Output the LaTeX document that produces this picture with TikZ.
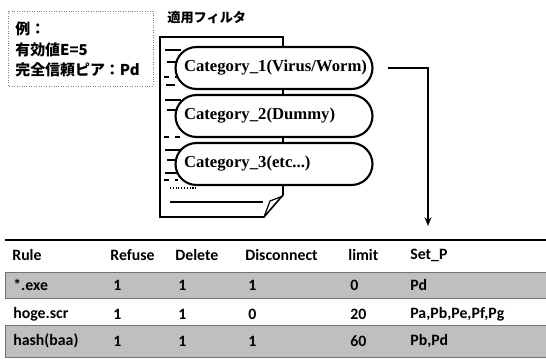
\documentclass[tikz,border=0pt]{standalone}
\usepackage{fontspec}
\setmainfont{Liberation Serif}
\newfontfamily\jpfont{Noto Sans CJK JP}
\newfontfamily\tablefont{Carlito}
\usetikzlibrary{arrows.meta}

\begin{document}
\begin{tikzpicture}[x=0.02cm, y=-0.02cm,
  cat/.style={draw, line width=1.2pt, fill=white, rounded corners=0.42cm, minimum width=3.94cm, minimum height=0.84cm, text width=3.6cm, align=left, font=\fontsize{9.5}{11}\selectfont\bfseries},
  jp/.style={anchor=west, inner sep=0pt, font=\jpfont\fontsize{8.5}{10}\selectfont\bfseries},
  cell/.style={anchor=west, inner sep=0pt, font=\tablefont\fontsize{9}{11}\selectfont\bfseries},
  band/.style={fill=black!25, draw=black!55, line width=0.4pt},
  stub/.style={line width=0.6pt}]
\useasboundingbox (0,0) rectangle (546,359);

% example box
\draw[black!50, densely dotted] (8,11) rectangle (153,86);
\node[jp] (ex1) at (15,29) {例：};
\node[jp] (ex2) at (15,50) {有効値E=5};
\node[jp] (ex3) at (15,70) {完全信頼ピア：Pd};

% filter sheet
\node[jp, font=\jpfont\fontsize{7.5}{9}\selectfont\bfseries] (ftitle) at (167,18) {適用フィルタ};
\draw[line width=0.9pt] (283,195) -- (283,37) -- (160,37) -- (160,217) -- (264,217) -- cycle;
\draw[line width=0.7pt] (264,217) -- (270,201) .. controls (276,199) .. (283,196);
\draw[stub] (165,50) -- (181,50);
\draw[stub] (167,62) -- (177,62);
\draw[stub, dashed] (164,77) -- (180,77);
\draw[stub] (166,85) -- (175,85);
\draw[stub] (165,100) -- (181,100);
\draw[stub] (167,110) -- (177,110);
\draw[stub, dashed] (164,137) -- (180,137);
\draw[stub] (165,150) -- (181,150);
\draw[stub] (167,160) -- (177,160);
\draw[stub] (165,173) -- (180,173);
\draw[stub, dashed] (164,180) -- (178,180);
\draw[stub, densely dotted] (170,188) -- (196,188);
\draw[line width=1pt] (170,202) -- (263,202);

\node[cat] (c1) at (274,68) {Category\_1(Virus/Worm)};
\node[cat] (c2) at (274,116) {Category\_2(Dummy)};
\node[cat] (c3) at (274,164) {Category\_3(etc...)};

% table
\draw[line width=1.2pt] (5,240) -- (546,240);
\draw[band] (5,272) rectangle (546,298);
\draw[band] (5,325) rectangle (546,357);

\node[cell] (hrule) at (12,255) {Rule};
\node[cell] (hrefuse) at (110,255) {Refuse};
\node[cell] (hdelete) at (175,255) {Delete};
\node[cell] (hdisc) at (245,255) {Disconnect};
\node[cell] (hlimit) at (348,255) {limit};
\node[cell] (hsetp) at (410,255) {Set\_P};

\node[cell] (r1rule) at (13,285) {*.exe};
\node[cell] (r1refuse) at (113,285) {1};
\node[cell] (r1delete) at (178,285) {1};
\node[cell] (r1disc) at (248,285) {1};
\node[cell] (r1limit) at (350,285) {0};
\node[cell] (r1setp) at (410,285) {Pd};

\node[cell] (r2rule) at (13,314) {hoge.scr};
\node[cell] (r2refuse) at (113,314) {1};
\node[cell] (r2delete) at (178,314) {1};
\node[cell] (r2disc) at (248,314) {0};
\node[cell] (r2limit) at (350,314) {20};
\node[cell] (r2setp) at (410,314) {Pa,Pb,Pe,Pf,Pg};

\node[cell] (r3rule) at (13,341) {hash(baa)};
\node[cell] (r3refuse) at (113,341) {1};
\node[cell] (r3delete) at (178,341) {1};
\node[cell] (r3disc) at (248,341) {1};
\node[cell] (r3limit) at (350,341) {60};
\node[cell] (r3setp) at (410,341) {Pb,Pd};

\coordinate (drop) at (428,226);
\draw[line width=0.8pt, -{Stealth[length=5pt,width=4pt]}] ([xshift=0.28cm]c1.east) -| (drop);
\end{tikzpicture}
\end{document}
